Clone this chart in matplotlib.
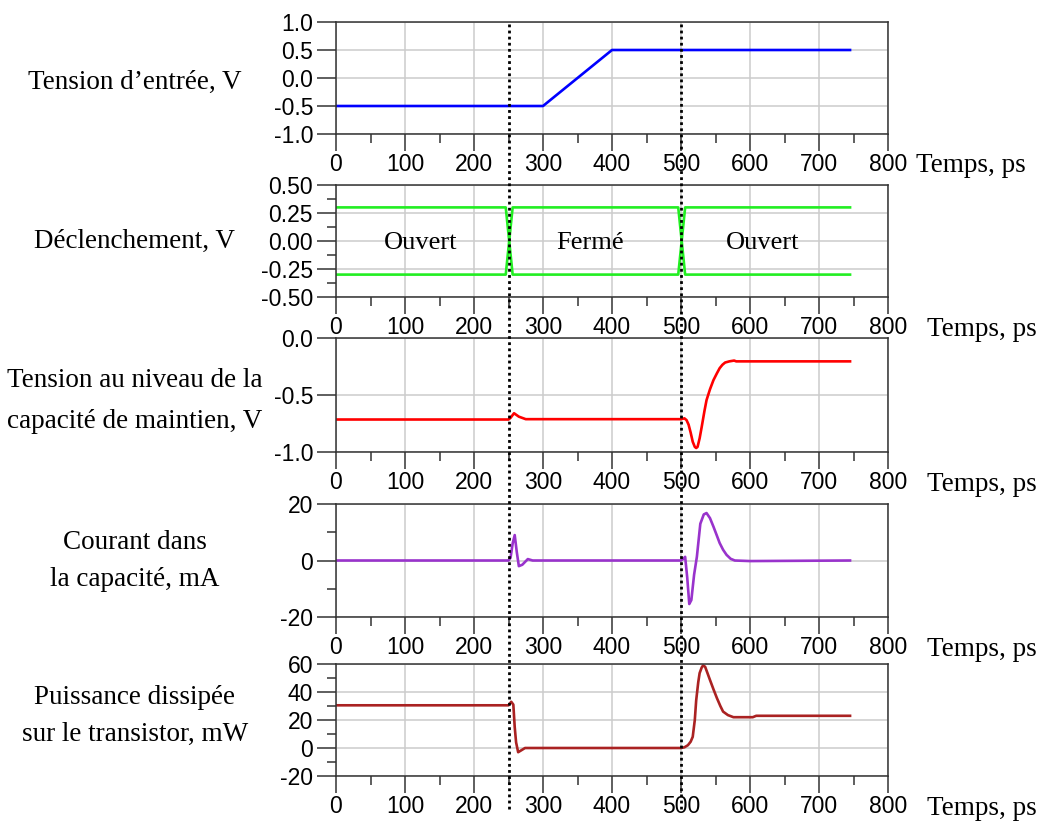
import numpy as np
import matplotlib.pyplot as plt
from matplotlib.ticker import MultipleLocator, FormatStrFormatter
import matplotlib.transforms as mtransforms

plt.rcParams['axes.unicode_minus'] = False
plt.rcParams['font.family'] = 'Liberation Sans'

# Données (temps en ps)
t_entree = [0, 300, 400, 745]
v_entree = [-0.5, -0.5, 0.5, 0.5]

t_decl = [0, 246, 256, 496, 506, 745]
v_decl_a = [0.3, 0.3, -0.3, -0.3, 0.3, 0.3]
v_decl_b = [-0.3, -0.3, 0.3, 0.3, -0.3, -0.3]

t_capa = [0, 250, 253, 258, 265, 275, 500, 505, 508, 511, 514, 517, 520, 522,
          524, 527, 530, 534, 537, 542, 547, 552, 556, 560, 564, 570, 577, 580,
          745]
v_capa = [-0.715, -0.715, -0.70, -0.66, -0.69, -0.712, -0.712, -0.705, -0.72,
          -0.76, -0.83, -0.91, -0.955, -0.965, -0.955, -0.88, -0.78, -0.64,
          -0.545, -0.45, -0.37, -0.31, -0.265, -0.235, -0.215, -0.205, -0.198,
          -0.205, -0.205]

t_courant = [0, 250, 253, 256, 259, 262, 265, 270, 278, 285, 500, 503, 506, 509,
             512, 515, 519, 523, 528, 533, 537, 542, 547, 552, 556, 561, 566,
             572, 578, 600, 745]
i_courant = [0, 0, 1, 6, 9, 3, -2, -1.5, 0.5, 0, 0, 0.5, 1.3, -6, -15.4, -14,
             -5, 1.3, 13, 16.3, 16.8, 15, 12, 8.8, 6.2, 3.8, 2, 0.6, 0, -0.2, 0]

t_puiss = [0, 250, 254, 257, 259, 261, 264, 269, 274, 500, 505, 510, 514, 517,
           520, 522, 525, 527, 530, 532, 535, 538, 542, 547, 552, 557, 561, 568,
           576, 604, 609, 745]
p_puiss = [30.5, 30.5, 33, 31, 15, 4, -3, -1.5, 0, 0, 0.5, 2, 4.5, 8, 20, 34,
           47, 53.5, 57.5, 59, 58, 54, 48.6, 42, 35.7, 30, 26, 23.5, 22, 22,
           23, 23]

labels_gauche = ["Tension d\u2019entrée, V",
                 "Déclenchement, V",
                 "Tension au niveau de la\ncapacité de maintien, V",
                 "Courant dans\nla capacité, mA",
                 "Puissance dissipée\nsur le transistor, mW"]
label_y_px = [82, 241, 401, 561, 716]
interligne = [1.2, 1.2, 1.8, 1.68, 1.66]
etats = ["Ouvert", "Fermé", "Ouvert"]
etats_t = [122, 368, 619]

W, H = 1042, 821
fig = plt.figure(figsize=(W / 100, H / 100), dpi=100)

# (haut, bas) de chaque panneau en pixels
panels_px = [(22, 134), (185, 297), (338, 452), (504, 617), (664, 776)]
ylims = [(-1.0, 1.0), (-0.5, 0.5), (-1.0, 0.0), (-20, 20), (-20, 60)]
ymaj = [0.5, 0.25, 0.5, 20, 20]
ymin = [None, 0.125, None, 10, 10]
yfmt = ['%.1f', '%.2f', '%.1f', '%d', '%d']

axes = []
for k, (top, bot) in enumerate(panels_px):
    ax = fig.add_axes([336 / W, 1 - bot / H, 552 / W, (bot - top) / H])
    ax.set_xlim(0, 800)
    ax.set_ylim(*ylims[k])
    ax.xaxis.set_major_locator(MultipleLocator(100))
    ax.xaxis.set_minor_locator(MultipleLocator(50))
    ax.yaxis.set_major_locator(MultipleLocator(ymaj[k]))
    if ymin[k]:
        ax.yaxis.set_minor_locator(MultipleLocator(ymin[k]))
    ax.yaxis.set_major_formatter(FormatStrFormatter(yfmt[k]))
    ax.grid(True, which='major', color='#cccccc', lw=1.1)
    ax.set_axisbelow(True)
    ax.tick_params(axis='x', which='major', length=12, width=1.1, pad=2,
                   labelsize=16.5, color='#333333')
    ax.tick_params(axis='x', which='minor', length=6.5, width=1.1,
                   color='#333333')
    ax.tick_params(axis='y', which='major', length=13.5, width=1.1, pad=3,
                   labelsize=16.5, color='#333333')
    ax.tick_params(axis='y', which='minor', length=6.7, width=1.1,
                   color='#333333')
    for s in ax.spines.values():
        s.set_color('#333333')
        s.set_linewidth(1.1)
    fig.text(135 / W, 1 - label_y_px[k] / H, labels_gauche[k],
             family='Liberation Serif', fontsize=19.5, ha='center', va='center',
             multialignment='center', linespacing=interligne[k])
    xl = 916 if k == 0 else 927
    fig.text(xl / W, 1 - (bot + 32) / H, "Temps, ps",
             family='Liberation Serif', fontsize=19.5, ha='left', va='center')
    axes.append(ax)

lw = 1.9
axes[0].plot(t_entree, v_entree, color='#0000ff', lw=lw)
axes[1].plot(t_decl, v_decl_a, color='#22ee22', lw=lw)
axes[1].plot(t_decl, v_decl_b, color='#22ee22', lw=lw)
for txt, tx in zip(etats, etats_t):
    axes[1].text(tx, -0.02, txt, family='Liberation Serif', fontsize=19,
                 ha='center', va='center')
axes[2].plot(t_capa, v_capa, color='#ff0000', lw=lw)
axes[3].plot(t_courant, i_courant, color='#9933cc', lw=lw)
axes[4].plot(t_puiss, p_puiss, color='#aa2222', lw=lw)

# lignes de commutation en pointillés
trans = mtransforms.blended_transform_factory(axes[0].transData, fig.transFigure)
for tc in [250, 500]:
    fig.add_artist(plt.Line2D([tc, tc], [1 - 24 / H, 1 - 812 / H],
                              transform=trans, color='black', lw=2,
                              ls=(0, (1, 1.2))))

fig.savefig('out.png', dpi=100)
